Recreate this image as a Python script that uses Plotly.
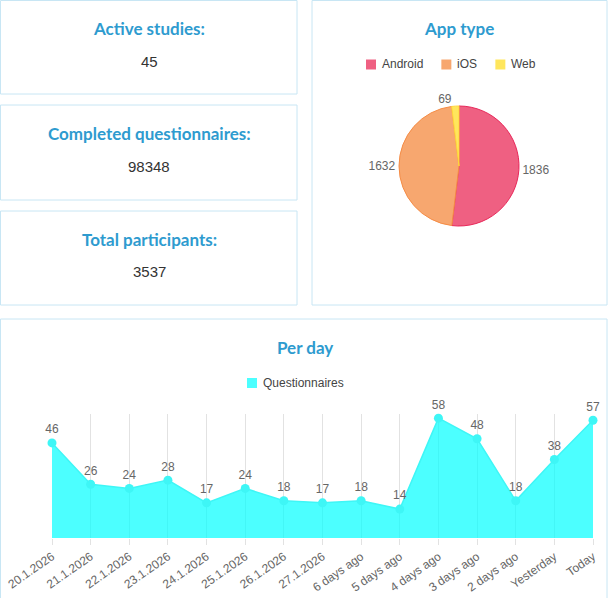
import plotly.graph_objects as go

W, H = 610, 598

# ---- data ----
card_titles = ["Active studies:", "Completed questionnaires:", "Total participants:"]
card_values = ["45", "98348", "3537"]

app_labels = ["Android", "iOS", "Web"]
app_values = [1836, 1632, 69]
app_colors = ["#EF6082", "#F7A76F", "#FFE65C"]
app_borders = ["#E8285A", "#F58C45", "#FFD83A"]

series_name = "Questionnaires"
day_labels = ["20.1.2026", "21.1.2026", "22.1.2026", "23.1.2026", "24.1.2026",
              "25.1.2026", "26.1.2026", "27.1.2026", "6 days ago", "5 days ago",
              "4 days ago", "3 days ago", "2 days ago", "Yesterday", "Today"]
day_values = [46, 26, 24, 28, 17, 24, 18, 17, 18, 14, 58, 48, 18, 38, 57]


def px(x):
    return x / W


def py(y):
    return 1 - y / H


TITLE_COLOR = "#2E9BCF"
BORDER = "#C8E6F4"
TITLE_FONT = "Lato"
LABEL_FONT = "Liberation Sans"
LEG_FONT = "Liberation Sans"
AREA_FILL = "rgba(0,255,255,0.70)"

# approximate Liberation Sans advance widths (em) for legend layout
CHAR_W = {"A": .667, "n": .556, "d": .556, "r": .333, "o": .556, "i": .222,
          "O": .778, "S": .667, "W": .944, "e": .556, "b": .556}


def text_w(s, size=12):
    return sum(CHAR_W.get(c, .556) for c in s) * size


fig = go.Figure()

# pie
fig.add_trace(go.Pie(
    labels=app_labels, values=app_values, sort=False, direction="clockwise",
    rotation=0,
    marker=dict(colors=app_colors, line=dict(color=app_borders, width=1)),
    textinfo="value", textposition="outside",
    textfont=dict(family=LABEL_FONT, size=12, color="#666666"),
    domain=dict(x=[px(399), px(519)], y=[py(226), py(106)]),
    showlegend=False, hoverinfo="label+value", automargin=False,
))

# area
fig.add_trace(go.Scatter(
    x=day_labels, y=day_values, mode="lines+markers+text",
    text=[str(v) for v in day_values], textposition="top center",
    textfont=dict(family=LABEL_FONT, size=12, color="#666666"),
    fill="tozeroy", fillcolor=AREA_FILL,
    line=dict(color="#3EF6F6", width=1.5),
    marker=dict(color="#3EF6F6", size=9),
    cliponaxis=False, showlegend=False, name=series_name,
))

shapes = []
# card panels
for (y0, y1) in [(0.5, 94), (105, 200), (211, 305)]:
    shapes.append(dict(type="rect", xref="paper", yref="paper",
                       x0=px(0.5), x1=px(297), y0=py(y1), y1=py(y0),
                       line=dict(color=BORDER, width=1), layer="below"))
shapes.append(dict(type="rect", xref="paper", yref="paper",
                   x0=px(312), x1=px(607), y0=py(305), y1=py(0.5),
                   line=dict(color=BORDER, width=1), layer="below"))
shapes.append(dict(type="rect", xref="paper", yref="paper",
                   x0=px(0.5), x1=px(607), y0=py(605), y1=py(319),
                   line=dict(color=BORDER, width=1), layer="below"))

annotations = []
card_title_y = [29, 134, 240]
card_value_y = [61, 167, 271]
for t, v, ty, vy in zip(card_titles, card_values, card_title_y, card_value_y):
    annotations.append(dict(text="<b>" + t + "</b>", x=px(149), y=py(ty),
                            xref="paper", yref="paper", showarrow=False,
                            xanchor="center", yanchor="middle",
                            font=dict(family=TITLE_FONT, size=17, color=TITLE_COLOR)))
    annotations.append(dict(text=v, x=px(149), y=py(vy),
                            xref="paper", yref="paper", showarrow=False,
                            xanchor="center", yanchor="middle",
                            font=dict(family="Liberation Sans", size=15, color="#333333")))
annotations.append(dict(text="<b>App type</b>", x=px(459), y=py(29),
                        xref="paper", yref="paper", showarrow=False,
                        xanchor="center", yanchor="middle",
                        font=dict(family=TITLE_FONT, size=17, color=TITLE_COLOR)))
annotations.append(dict(text="<b>Per day</b>", x=px(305), y=py(348),
                        xref="paper", yref="paper", showarrow=False,
                        xanchor="center", yanchor="middle",
                        font=dict(family=TITLE_FONT, size=17, color=TITLE_COLOR)))


def legend_item(x_sw, y_c, color, label):
    shapes.append(dict(type="rect", xref="paper", yref="paper",
                       x0=px(x_sw), x1=px(x_sw + 10), y0=py(y_c + 5), y1=py(y_c - 5),
                       fillcolor=color, line=dict(width=0)))
    annotations.append(dict(text=label, x=px(x_sw + 14), y=py(y_c),
                            xref="paper", yref="paper", showarrow=False,
                            xanchor="left", yanchor="middle",
                            font=dict(family=LEG_FONT, size=12, color="#444444")))


# pie legend, entries laid out left to right
leg_x = 366
for lab, col in zip(app_labels, app_colors):
    legend_item(leg_x, 64.5, col, lab)
    leg_x += 15 + text_w(lab) + 19

legend_item(247, 383, AREA_FILL, series_name)

fig.update_layout(
    width=W, height=H, margin=dict(l=0, r=0, t=0, b=0, autoexpand=False),
    paper_bgcolor="white", plot_bgcolor="white",
    shapes=shapes, annotations=annotations, showlegend=False,
    xaxis=dict(domain=[px(52), px(593)], range=[0, 14], type="category",
               showgrid=True, gridcolor="#E2E2E2", gridwidth=1,
               ticks="outside", ticklen=6, tickcolor="#E2E2E2",
               tickangle=-35, showline=False, zeroline=False, automargin=False,
               tickfont=dict(family=LABEL_FONT, size=12, color="#666666")),
    yaxis=dict(domain=[py(538), py(414)], range=[0, 60], visible=False,
               showgrid=False, zeroline=False, automargin=False),
    font=dict(family=LABEL_FONT),
)

fig.write_html("out.html", config={"displayModeBar": False},
               post_script="document.body.style.margin='0px';document.body.style.overflow='hidden';")
